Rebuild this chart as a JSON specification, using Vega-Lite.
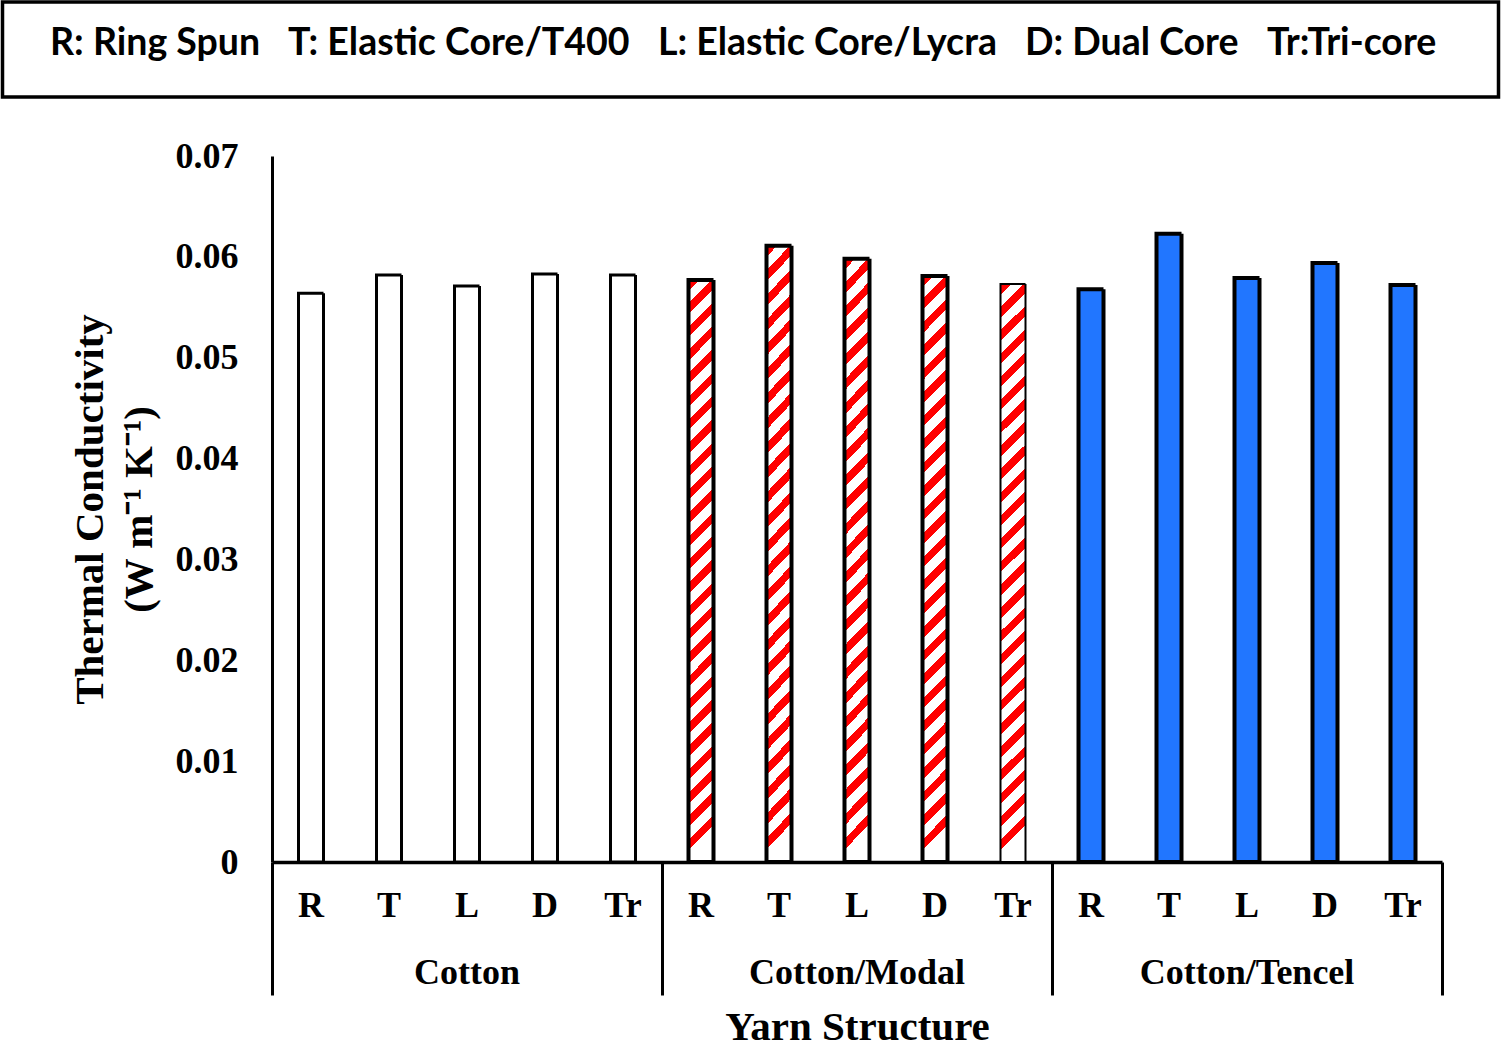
{
  "$schema": "https://vega.github.io/schema/vega-lite/v6.json",
  "width": 1170,
  "height": 706,
  "padding": {"left": 0, "top": 0, "right": 2, "bottom": 0},
  "data": {
    "values": [
      {"group": "Cotton", "structure": "R", "structure_name": "R: Ring Spun", "key": "Cotton|R", "value": 0.0564},
      {"group": "Cotton", "structure": "T", "structure_name": "T: Elastic Core/T400", "key": "Cotton|T", "value": 0.0582},
      {"group": "Cotton", "structure": "L", "structure_name": "L: Elastic Core/Lycra", "key": "Cotton|L", "value": 0.0571},
      {"group": "Cotton", "structure": "D", "structure_name": "D: Dual Core", "key": "Cotton|D", "value": 0.0583},
      {"group": "Cotton", "structure": "Tr", "structure_name": "Tr:Tri-core", "key": "Cotton|Tr", "value": 0.0582},
      {"group": "Cotton/Modal", "structure": "R", "structure_name": "R: Ring Spun", "key": "Cotton/Modal|R", "value": 0.0577},
      {"group": "Cotton/Modal", "structure": "T", "structure_name": "T: Elastic Core/T400", "key": "Cotton/Modal|T", "value": 0.0611},
      {"group": "Cotton/Modal", "structure": "L", "structure_name": "L: Elastic Core/Lycra", "key": "Cotton/Modal|L", "value": 0.0598},
      {"group": "Cotton/Modal", "structure": "D", "structure_name": "D: Dual Core", "key": "Cotton/Modal|D", "value": 0.0581},
      {"group": "Cotton/Modal", "structure": "Tr", "structure_name": "Tr:Tri-core", "key": "Cotton/Modal|Tr", "value": 0.0573},
      {"group": "Cotton/Tencel", "structure": "R", "structure_name": "R: Ring Spun", "key": "Cotton/Tencel|R", "value": 0.0568},
      {"group": "Cotton/Tencel", "structure": "T", "structure_name": "T: Elastic Core/T400", "key": "Cotton/Tencel|T", "value": 0.0623},
      {"group": "Cotton/Tencel", "structure": "L", "structure_name": "L: Elastic Core/Lycra", "key": "Cotton/Tencel|L", "value": 0.0579},
      {"group": "Cotton/Tencel", "structure": "D", "structure_name": "D: Dual Core", "key": "Cotton/Tencel|D", "value": 0.0594},
      {"group": "Cotton/Tencel", "structure": "Tr", "structure_name": "Tr:Tri-core", "key": "Cotton/Tencel|Tr", "value": 0.0572}
    ]
  },
  "mark": {"type": "bar", "size": 25, "stroke": "black"},
  "encoding": {
    "x": {
      "field": "key",
      "type": "nominal",
      "sort": null,
      "scale": {"paddingInner": 0, "paddingOuter": 0},
      "axis": {
        "title": "Yarn Structure",
        "titleFont": "Liberation Serif",
        "titleFontSize": 41,
        "titleFontWeight": "bold",
        "titleColor": "black",
        "titlePadding": 11,
        "labelAngle": 0,
        "labelFont": "Liberation Serif",
        "labelFontSize": 36,
        "labelFontWeight": "bold",
        "labelColor": "black",
        "labelBaseline": "top",
        "labelLineHeight": 67,
        "labelPadding": -107,
        "labelOverlap": false,
        "labelBound": false,
        "labelFlush": false,
        "labelLimit": 500,
        "labelExpr": "isValid(datum.value) ? (split(datum.value, '|')[1] == 'L' ? ['L', split(datum.value, '|')[0]] : split(datum.value, '|')[1]) : ''",
        "bandPosition": 1,
        "tickExtra": true,
        "tickSize": 133,
        "tickWidth": 3,
        "tickColor": "black",
        "tickOpacity": {
          "condition": {"test": "!!datum.extra || indexof(['Cotton|Tr', 'Cotton/Modal|Tr', 'Cotton/Tencel|Tr'], datum.value) >= 0", "value": 1},
          "value": 0
        },
        "domainColor": "black",
        "domainWidth": 3.5,
        "grid": false
      }
    },
    "y": {
      "field": "value",
      "type": "quantitative",
      "scale": {"domain": [0, 0.07], "nice": false},
      "axis": {
        "title": ["Thermal Conductivity", "(W m⁻¹ K⁻¹)"],
        "titleFont": "Liberation Serif",
        "titleFontSize": 41,
        "titleFontWeight": "bold",
        "titleColor": "black",
        "titleLineHeight": 49,
        "titlePadding": 15,
        "values": [0, 0.01, 0.02, 0.03, 0.04, 0.05, 0.06, 0.07],
        "format": ".2~f",
        "labelFont": "Liberation Serif",
        "labelFontSize": 36,
        "labelFontWeight": "bold",
        "labelColor": "black",
        "labelPadding": 34,
        "ticks": false,
        "domainColor": "black",
        "domainWidth": 3,
        "grid": false
      }
    },
    "fill": {
      "condition": [
        {"test": "datum.group == 'Cotton'", "value": "#ffffff"},
        {
          "test": "datum.group == 'Cotton/Modal'",
          "value": {
            "gradient": "linear",
            "x1": 0, "y1": 0, "x2": 0.043, "y2": 1,
            "stops": [
              {"offset": 0, "color": "#ff0000"}, {"offset": 0.018, "color": "#ff0000"}, {"offset": 0.018, "color": "#ffffff"}, {"offset": 0.04, "color": "#ffffff"},
              {"offset": 0.04, "color": "#ff0000"}, {"offset": 0.058, "color": "#ff0000"}, {"offset": 0.058, "color": "#ffffff"}, {"offset": 0.08, "color": "#ffffff"},
              {"offset": 0.08, "color": "#ff0000"}, {"offset": 0.098, "color": "#ff0000"}, {"offset": 0.098, "color": "#ffffff"}, {"offset": 0.12, "color": "#ffffff"},
              {"offset": 0.12, "color": "#ff0000"}, {"offset": 0.138, "color": "#ff0000"}, {"offset": 0.138, "color": "#ffffff"}, {"offset": 0.16, "color": "#ffffff"},
              {"offset": 0.16, "color": "#ff0000"}, {"offset": 0.178, "color": "#ff0000"}, {"offset": 0.178, "color": "#ffffff"}, {"offset": 0.2, "color": "#ffffff"},
              {"offset": 0.2, "color": "#ff0000"}, {"offset": 0.218, "color": "#ff0000"}, {"offset": 0.218, "color": "#ffffff"}, {"offset": 0.24, "color": "#ffffff"},
              {"offset": 0.24, "color": "#ff0000"}, {"offset": 0.258, "color": "#ff0000"}, {"offset": 0.258, "color": "#ffffff"}, {"offset": 0.28, "color": "#ffffff"},
              {"offset": 0.28, "color": "#ff0000"}, {"offset": 0.298, "color": "#ff0000"}, {"offset": 0.298, "color": "#ffffff"}, {"offset": 0.32, "color": "#ffffff"},
              {"offset": 0.32, "color": "#ff0000"}, {"offset": 0.338, "color": "#ff0000"}, {"offset": 0.338, "color": "#ffffff"}, {"offset": 0.36, "color": "#ffffff"},
              {"offset": 0.36, "color": "#ff0000"}, {"offset": 0.378, "color": "#ff0000"}, {"offset": 0.378, "color": "#ffffff"}, {"offset": 0.4, "color": "#ffffff"},
              {"offset": 0.4, "color": "#ff0000"}, {"offset": 0.418, "color": "#ff0000"}, {"offset": 0.418, "color": "#ffffff"}, {"offset": 0.44, "color": "#ffffff"},
              {"offset": 0.44, "color": "#ff0000"}, {"offset": 0.458, "color": "#ff0000"}, {"offset": 0.458, "color": "#ffffff"}, {"offset": 0.48, "color": "#ffffff"},
              {"offset": 0.48, "color": "#ff0000"}, {"offset": 0.498, "color": "#ff0000"}, {"offset": 0.498, "color": "#ffffff"}, {"offset": 0.52, "color": "#ffffff"},
              {"offset": 0.52, "color": "#ff0000"}, {"offset": 0.538, "color": "#ff0000"}, {"offset": 0.538, "color": "#ffffff"}, {"offset": 0.56, "color": "#ffffff"},
              {"offset": 0.56, "color": "#ff0000"}, {"offset": 0.578, "color": "#ff0000"}, {"offset": 0.578, "color": "#ffffff"}, {"offset": 0.6, "color": "#ffffff"},
              {"offset": 0.6, "color": "#ff0000"}, {"offset": 0.618, "color": "#ff0000"}, {"offset": 0.618, "color": "#ffffff"}, {"offset": 0.64, "color": "#ffffff"},
              {"offset": 0.64, "color": "#ff0000"}, {"offset": 0.658, "color": "#ff0000"}, {"offset": 0.658, "color": "#ffffff"}, {"offset": 0.68, "color": "#ffffff"},
              {"offset": 0.68, "color": "#ff0000"}, {"offset": 0.698, "color": "#ff0000"}, {"offset": 0.698, "color": "#ffffff"}, {"offset": 0.72, "color": "#ffffff"},
              {"offset": 0.72, "color": "#ff0000"}, {"offset": 0.738, "color": "#ff0000"}, {"offset": 0.738, "color": "#ffffff"}, {"offset": 0.76, "color": "#ffffff"},
              {"offset": 0.76, "color": "#ff0000"}, {"offset": 0.778, "color": "#ff0000"}, {"offset": 0.778, "color": "#ffffff"}, {"offset": 0.8, "color": "#ffffff"},
              {"offset": 0.8, "color": "#ff0000"}, {"offset": 0.818, "color": "#ff0000"}, {"offset": 0.818, "color": "#ffffff"}, {"offset": 0.84, "color": "#ffffff"},
              {"offset": 0.84, "color": "#ff0000"}, {"offset": 0.858, "color": "#ff0000"}, {"offset": 0.858, "color": "#ffffff"}, {"offset": 0.88, "color": "#ffffff"},
              {"offset": 0.88, "color": "#ff0000"}, {"offset": 0.898, "color": "#ff0000"}, {"offset": 0.898, "color": "#ffffff"}, {"offset": 0.92, "color": "#ffffff"},
              {"offset": 0.92, "color": "#ff0000"}, {"offset": 0.938, "color": "#ff0000"}, {"offset": 0.938, "color": "#ffffff"}, {"offset": 0.96, "color": "#ffffff"},
              {"offset": 0.96, "color": "#ff0000"}, {"offset": 0.978, "color": "#ff0000"}, {"offset": 0.978, "color": "#ffffff"}, {"offset": 1, "color": "#ffffff"}
            ]
          }
        }
      ],
      "value": "#2176ff"
    },
    "strokeWidth": {
      "condition": [
        {"test": "datum.group == 'Cotton'", "value": 3},
        {"test": "datum.group == 'Cotton/Modal' && datum.structure == 'Tr'", "value": 2}
      ],
      "value": 4
    },
    "strokeDash": {
      "field": "structure_name",
      "type": "nominal",
      "scale": {
        "domain": ["R: Ring Spun", "T: Elastic Core/T400", "L: Elastic Core/Lycra", "D: Dual Core", "Tr:Tri-core"],
        "range": [[1, 0], [1, 0], [1, 0], [1, 0], [1, 0]]
      },
      "legend": {
        "title": null,
        "orient": "none",
        "legendX": -269.5,
        "legendY": -154,
        "direction": "horizontal",
        "padding": 34,
        "columnPadding": 14,
        "symbolType": "square",
        "symbolSize": 0,
        "symbolOpacity": 0,
        "symbolStrokeWidth": 0,
        "labelOffset": -24,
        "labelLimit": 1000,
        "labelBaseline": "alphabetic",
        "labelExpr": "datum.label == 'Tr:Tri-core' ? datum.label + '\u2800' : datum.label",
        "labelFont": "Lato",
        "labelFontSize": 37.5,
        "labelFontWeight": "bold",
        "labelColor": "black",
        "strokeColor": "black"
      }
    }
  },
  "config": {
    "view": {"stroke": null},
    "legend": {"strokeWidth": 3.5}
  }
}
